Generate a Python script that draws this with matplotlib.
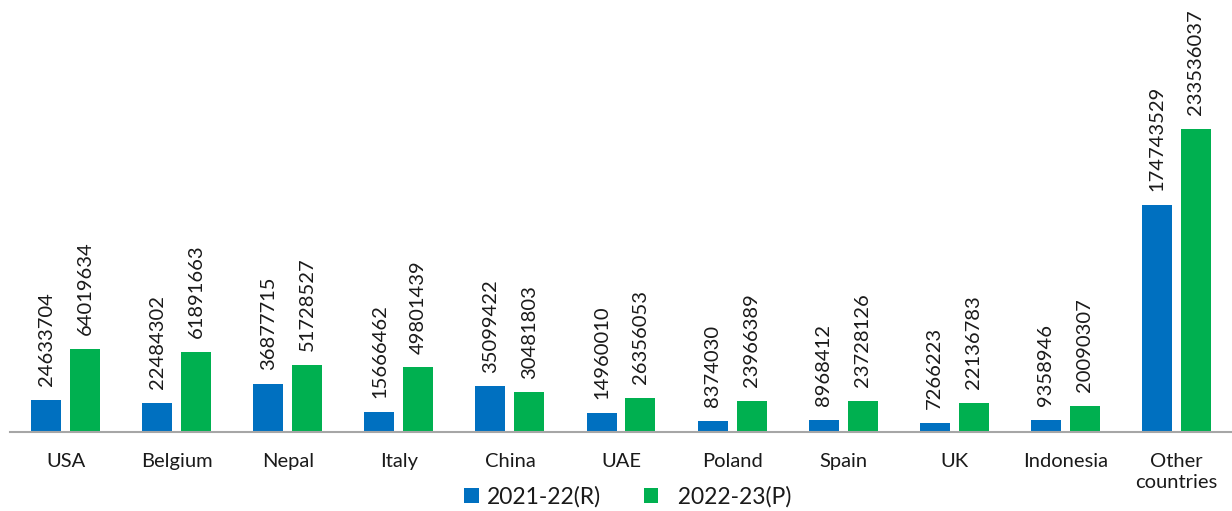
import matplotlib.pyplot as plt
import numpy as np

countries = ["USA", "Belgium", "Nepal", "Italy", "China", "UAE", "Poland",
             "Spain", "UK", "Indonesia", "Other\ncountries"]
values_2122 = [24633704, 22484302, 36877715, 15666462, 35099422, 14960010,
               8374030, 8968412, 7266223, 9358946, 174743529]
values_2223 = [64019634, 61891663, 51728527, 49801439, 30481803, 26356053,
               23966389, 23728126, 22136783, 20090307, 233536037]
series_names = ["2021-22(R)", "  2022-23(P)"]

plt.rcParams['font.family'] = ['Lato', 'DejaVu Sans']

fig = plt.figure(figsize=(12.32, 5.11), dpi=100)
ax = fig.add_axes([10 / 1232, 1 - 432 / 511, 1222 / 1232, 432 / 511])

x = np.arange(len(countries))
w = 0.27
off = 0.175
b1 = ax.bar(x - off, values_2122, w, color="#0070C0", label=series_names[0])
b2 = ax.bar(x + off, values_2223, w, color="#00B050", label=series_names[1])

# value labels above each bar, rotated
for bars in (b1, b2):
    for rect in bars:
        h = rect.get_height()
        ax.annotate(str(int(h)), (rect.get_x() + rect.get_width() / 2, h),
                    xytext=(0, 10), textcoords="offset points",
                    rotation=90, ha="center", va="bottom", fontsize=14.5,
                    color="#1a1a1a")

ax.set_xlim(-0.5, len(countries) - 0.5)
ax.set_ylim(0, 333e6)
ax.set_xticks(x)
ax.set_xticklabels(countries, fontsize=14.5, color="#1a1a1a", linespacing=1.3)
ax.tick_params(axis="x", length=0, pad=15)
ax.set_yticks([])
for s in ["top", "right", "left"]:
    ax.spines[s].set_visible(False)
ax.spines["bottom"].set_color("#A6A6A6")
ax.spines["bottom"].set_linewidth(1.5)

fig.legend(handles=[b1, b2], labels=series_names, loc="center",
           bbox_to_anchor=(628 / 1232, 1 - 497 / 511), ncol=2, frameon=False,
           fontsize=16.5, handlelength=0.65, handleheight=0.65, handletextpad=0.35,
           columnspacing=1.85, borderpad=0, labelcolor="#1a1a1a")

fig.savefig("out.png", dpi=100)
